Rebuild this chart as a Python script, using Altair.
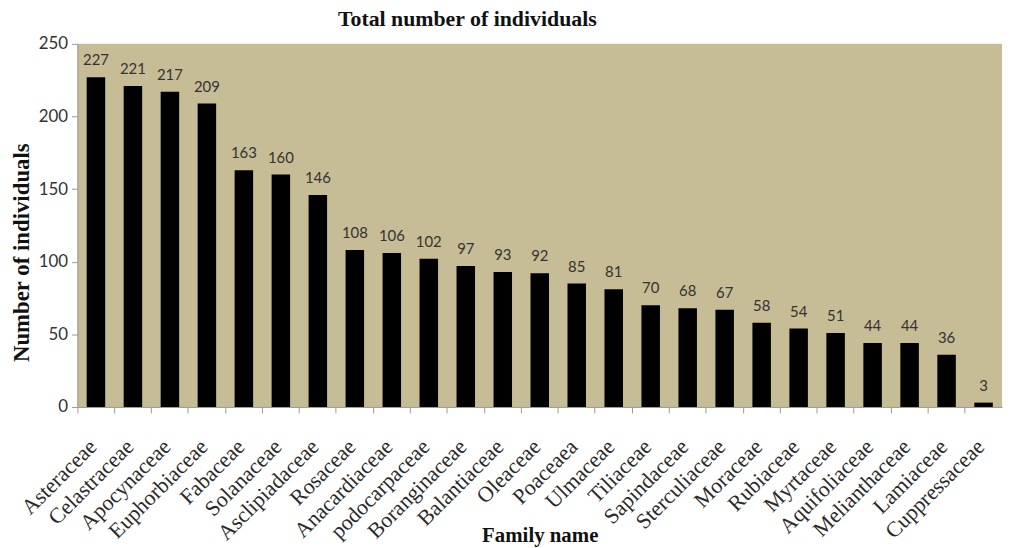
import altair as alt
import pandas as pd

families = ["Asteraceae", "Celastraceae", "Apocynaceae", "Euphorbiaceae", "Fabaceae",
            "Solanaceae", "Asclipiadaceae", "Rosaceae", "Anacardiaceae", "podocarpaceae",
            "Boranginaceae", "Balantiaceae", "Oleaceae", "Poaceaea", "Ulmaceae",
            "Tiliaceae", "Sapindaceae", "Sterculiaceae", "Moraceae", "Rubiaceae",
            "Myrtaceae", "Aquifoliaceae", "Melianthaceae", "Lamiaceae", "Cuppressaceae"]
counts = [227, 221, 217, 209, 163, 160, 146, 108, 106, 102, 97, 93, 92, 85, 81,
          70, 68, 67, 58, 54, 51, 44, 44, 36, 3]
y_ticks = [0, 50, 100, 150, 200, 250]

df = pd.DataFrame({"family": families, "count": counts})

serif = "Liberation Serif"
sans = "Lato"

x = alt.X("family:N", sort=families,
          scale=alt.Scale(paddingInner=0, paddingOuter=0),
          axis=alt.Axis(title="Family name", labelAngle=-45, labelAlign="right",
                        labelBaseline="top", labelFont=serif, labelFontSize=22,
                        labelColor="#2a2a2a", labelPadding=23, labelOffset=-10,
                        titleFont=serif, titleFontSize=21, titleFontWeight="bold",
                        titleColor="#111111", titleY=130, titleBaseline="middle",
                        bandPosition=0, tickColor="#999999", tickSize=6,
                        domainColor="#999999", labelOverlap=False))
y = alt.Y("count:Q", scale=alt.Scale(domain=[0, 250], nice=False),
          axis=alt.Axis(title="Number of individuals", values=y_ticks, grid=False,
                        labelFont=sans, labelFontSize=17, labelColor="#333333",
                        labelPadding=4,
                        titleFont=serif, titleFontSize=23, titleFontWeight="bold",
                        titleColor="#111111", titleAngle=270, titleAlign="center",
                        titleBaseline="middle", titleX=-56, titleY=210,
                        tickColor="#999999", tickSize=6, domainColor="#999999"))

bars = alt.Chart(df).mark_bar(color="#000000", width=alt.RelativeBandSize(0.5)).encode(x=x, y=y)
labels = alt.Chart(df).mark_text(dy=-17, font=sans, fontSize=15, color="#333333").encode(
    x=alt.X("family:N", sort=families), y="count:Q", text="count:Q")

chart = (bars + labels).properties(
    width=932, height=366,
    background="white",
    autosize=alt.AutoSizeParams(type="none"),
    padding={"left": 70, "top": 34, "right": 8, "bottom": 140},
    title=alt.Title("Total number of individuals", font=serif, fontSize=22,
                    fontWeight="bold", color="#111111", offset=1, anchor="middle",
                    dx=-73, dy=-3),
).configure_view(fill="#C6BC95", stroke=None)

chart.save("out.html", embed_options={"renderer": "svg", "actions": False})
